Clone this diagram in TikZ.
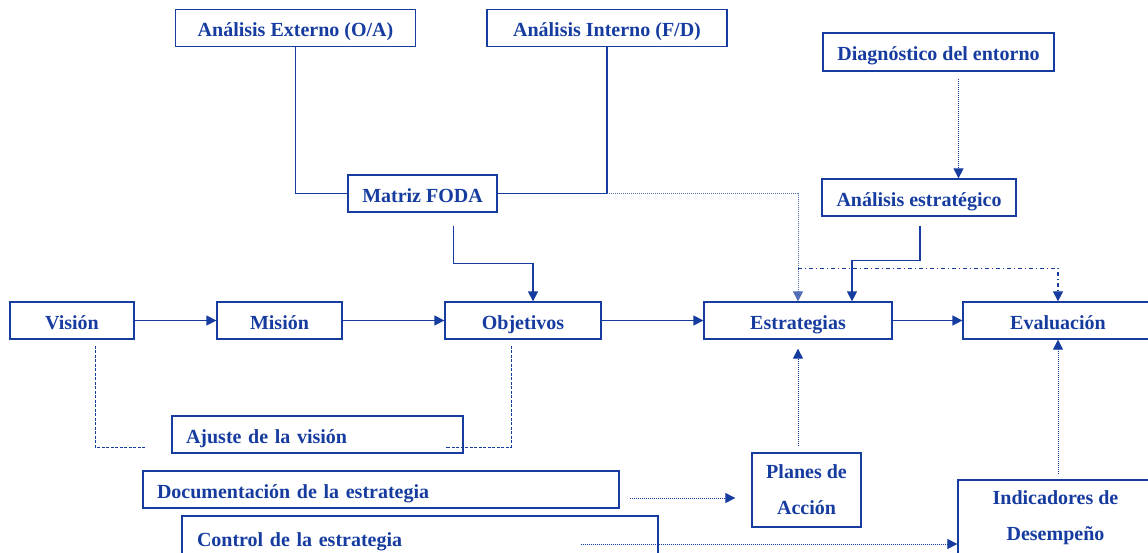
\documentclass[tikz,border=0pt]{standalone}
\usepackage{fontspec}
\setmainfont{Liberation Serif}
\usetikzlibrary{arrows.meta,calc}
\definecolor{ink}{RGB}{22,60,160}
\begin{document}
\begin{tikzpicture}[x=1pt,y=-1pt,
  box/.style={draw=ink,line width=1.3pt,text=ink,font=\bfseries\fontsize{20}{36}\selectfont,inner sep=0pt,minimum height=37pt},
  onebox/.style={box,text height=17pt,text depth=0pt},
  lbox/.style={onebox,align=left,inner xsep=14pt},
  link/.style={draw=ink,line width=1.3pt},
  tip/.style={-{Triangle[width=10pt,length=10pt]},fill=none},
  dotline/.style={draw=ink,line width=1pt,dash pattern=on 1pt off 1pt},
  dashline/.style={draw=ink,line width=1pt,dash pattern=on 3pt off 1.5pt},
  dashdotline/.style={draw=ink,line width=1.2pt,dash pattern=on 4pt off 3pt on 1pt off 3pt},
]
\useasboundingbox (0,0) rectangle (1148,552);
\clip (0,0) rectangle (1148,552);

% boxes
\node[onebox,minimum width=240pt] (ext) at (295.5,28) {Análisis Externo (O/A)};
\node[onebox,minimum width=240pt] (int) at (607,28) {Análisis Interno (F/D)};
\node[onebox,minimum width=231pt,minimum height=38pt] (diag) at (938.5,52) {Diagnóstico del entorno};
\node[onebox,minimum width=149pt] (foda) at (422.5,193.5) {Matriz FODA};
\node[onebox,minimum width=194pt] (aest) at (919,197.5) {Análisis estratégico};
\node[onebox,minimum width=124pt] (vis) at (72,320.5) {Visión};
\node[onebox,minimum width=125pt] (mis) at (279.5,320.5) {Misión};
\node[onebox,minimum width=156pt] (obj) at (523,320.5) {Objetivos};
\node[onebox,minimum width=188pt] (est) at (798,320.5) {Estrategias};
\node[onebox,minimum width=190pt] (eva) at (1058,320.5) {Evaluación};
\node[lbox,text width=263pt] (aju) at (317.5,434.5) {Ajuste de la visión};
\node[lbox,text width=448pt] (doc) at (381,489.5) {Documentación de la estrategia};
\node[lbox,inner xsep=15pt,text width=446pt,minimum height=44pt] (ctl) at (420,538) {Control de la estrategia};
\node[box,minimum width=109pt,minimum height=74pt,align=center] (pla) at (806.5,490) {Planes de\\Acción};
\node[box,minimum width=195pt,minimum height=76pt,align=center] (ind) at (1055.5,518) {Indicadores de\\Desempeño};

% analysis feeding the SWOT matrix
\draw[link] (ext.south) |- (foda.west);
\draw[link] (int.south) |- (foda.east);
\draw[dotline,draw=ink!75,tip] (int.south |- foda.east) -| (est.north);

% matrix to objectives
\coordinate (f1) at ($(foda.south)+(31,13)$);
\coordinate (f2) at ($(obj.north)+(10,-38)$);
\coordinate (o1) at ($(obj.north)+(10,0)$);
\draw[link,tip] (f1) |- (f2) -- (o1);

% environment diagnosis to strategic analysis
\coordinate (d1) at ($(diag.south)+(20,7)$);
\coordinate (d2) at ($(aest.north)+(39.5,0)$);
\draw[dotline,tip] (d1) -- (d2);

% strategic analysis to strategies
\coordinate (s1) at ($(aest.south)+(1,9)$);
\coordinate (s2) at ($(est.north)+(54,0)$);
\draw[link,tip] (s1) -- ++(0,35) -| (s2);

% branch to evaluation
\coordinate (dd) at ($(est.north)+(0,-33)$);
\draw[dashdotline,tip] (dd) -| (eva.north);

% main chain
\draw[link,tip] (vis) -- (mis);
\draw[link,tip] (mis) -- (obj);
\draw[link,tip] (obj) -- (est);
\draw[link,tip] (est) -- (eva);

% vision adjustment loop
\coordinate (v1) at ($(vis.south)+(23,6)$);
\coordinate (v2) at ($(aju.west)+(-25,12.5)$);
\draw[dashline] (v1) |- (v2);
\coordinate (b1) at ($(obj.south)+(-12,6)$);
\coordinate (b2) at ($(aju.east)+(-18,12.5)$);
\draw[dashline] (b1) |- (b2);

% action plans and indicators
\coordinate (p1) at ($(pla.north)+(-8.5,-6)$);
\coordinate (e1) at ($(est.south)+(0,9)$);
\draw[dotline,tip] (p1) -- (e1);
\coordinate (i1) at ($(ind.north)+(2.5,-5)$);
\draw[dotline,tip] (i1) -- (eva.south);

% documentation and control
\coordinate (c1) at ($(doc.east)+(10,8.5)$);
\coordinate (c2) at ($(pla.west)+(-16,8)$);
\draw[dotline,tip] (c1) -- (c2);
\coordinate (k1) at ($(ctl.east)+(-78,6)$);
\coordinate (k2) at ($(ind.west)+(0,26)$);
\draw[dotline,tip] (k1) -- (k2);
\end{tikzpicture}
\end{document}
